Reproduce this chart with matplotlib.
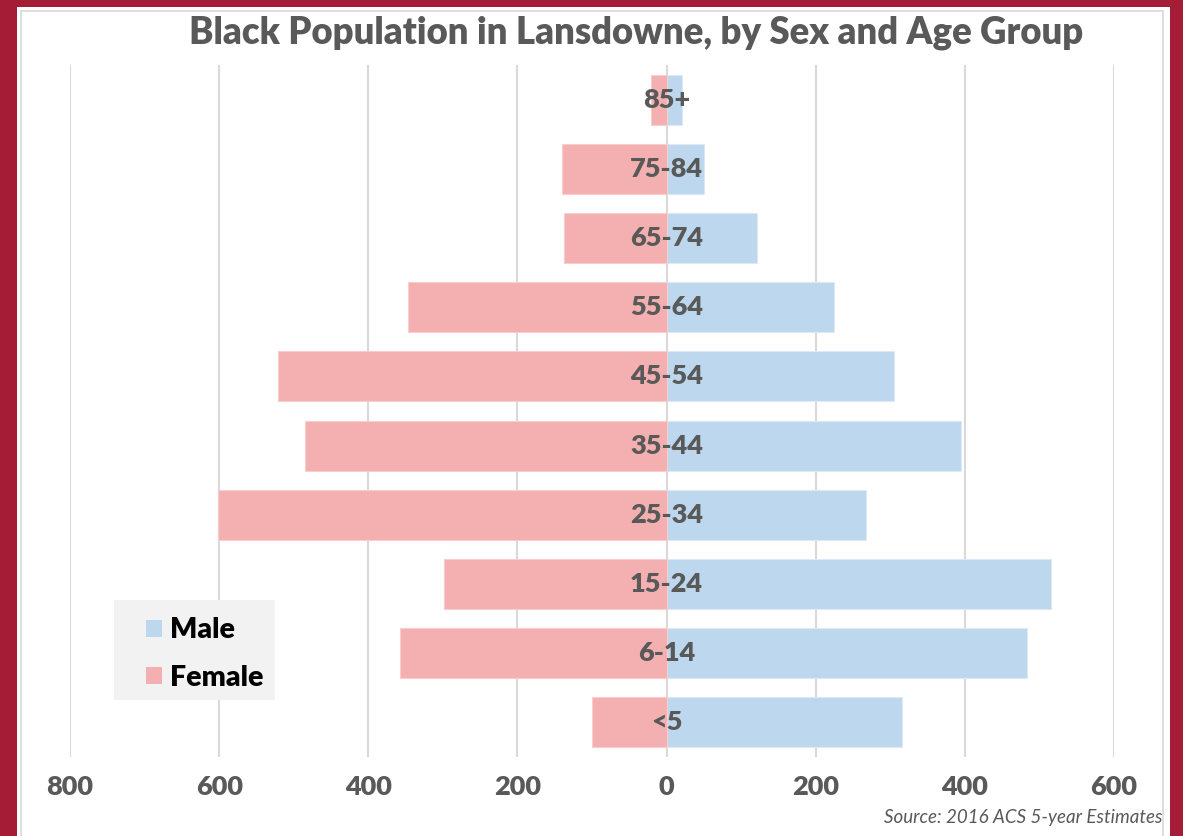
import matplotlib
matplotlib.use("Agg")
import matplotlib.pyplot as plt
from matplotlib.patches import Rectangle, Patch
from matplotlib.lines import Line2D

age_groups = ["<5", "6-14", "15-24", "25-34", "35-44", "45-54", "55-64", "65-74", "75-84", "85+"]
male = [316, 483, 515, 267, 395, 305, 225, 121, 50, 21]
female = [100, 358, 298, 601, 485, 521, 347, 137, 140, 21]
xticks = [-800, -600, -400, -200, 0, 200, 400, 600]
xticklabels = ["800", "600", "400", "200", "0", "200", "400", "600"]

TEXT = "#595959"
MALE_C = "#BDD7EE"
FEMALE_C = "#F4B0B1"
MAROON = "#A51C36"
FONT = "Lato"

W, H = 1183, 836
fig = plt.figure(figsize=(W / 100, H / 100), dpi=100)
fig.patch.set_facecolor("white")

ax = fig.add_axes([70 / W, (H - 757) / H, (1114 - 70) / W, (757 - 65) / H])
ax.set_xlim(-800, 600)
ax.set_ylim(-0.5, 9.5)
ypos = list(range(len(age_groups)))
ax.barh(ypos, male, height=0.72, color=MALE_C, edgecolor="#DDEAF6", linewidth=0.8, zorder=2, label="Male")
ax.barh(ypos, [-v for v in female], height=0.72, color=FEMALE_C, edgecolor="#F8CDCE", linewidth=0.8, zorder=2, label="Female")
for y, lab in zip(ypos, age_groups):
    ax.text(0, y, lab, ha="center", va="center", fontsize=19.5, fontweight="heavy",
            color=TEXT, family=FONT, zorder=4)

ax.set_xticks(xticks)
ax.set_xticklabels(xticklabels, fontsize=19.5, fontweight="heavy", color=TEXT, family=FONT)
ax.set_yticks([])
ax.tick_params(axis="x", length=0, pad=13)
ax.grid(axis="x", color="#D9D9D9", linewidth=1.5, zorder=0)
ax.set_axisbelow(True)
for s in ax.spines.values():
    s.set_visible(False)

fig.text(636 / W, 1 - 33 / H, "Black Population in Lansdowne, by Sex and Age Group",
         ha="center", va="center", fontsize=26.3, fontweight="heavy", color=TEXT, family=FONT)

# legend
fig.patches.append(Rectangle((114 / W, 1 - 700 / H), (275 - 114) / W, 100 / H,
                             transform=fig.transFigure, facecolor="#F2F2F2", edgecolor="none", zorder=5))
handles = [Patch(facecolor=MALE_C, edgecolor="none"), Patch(facecolor=FEMALE_C, edgecolor="none")]
leg = fig.legend(handles, ["Male", "Female"], loc="upper left",
                 bbox_to_anchor=(132 / W, 1 - 603 / H), frameon=False,
                 prop={"family": FONT, "weight": "heavy", "size": 20.5},
                 handlelength=0.55, handleheight=0.55, handletextpad=0.3, labelspacing=0.75,
                 borderpad=0.0)
leg.set_zorder(6)

fig.text(884 / W, 1 - 818 / H, "Source: 2016 ACS 5-year Estimates", ha="left", va="center",
         fontsize=13.5, style="italic", color=TEXT, family=FONT)

# frame lines
fig.add_artist(Line2D([21 / W, 21 / W], [0, 1 - 11 / H], transform=fig.transFigure, color="#D9D9D9", lw=1.2))
fig.add_artist(Line2D([1163 / W, 1163 / W], [0, 1 - 11 / H], transform=fig.transFigure, color="#D9D9D9", lw=1.2))
fig.add_artist(Line2D([21 / W, 1163 / W], [1 - 11 / H, 1 - 11 / H], transform=fig.transFigure, color="#D9D9D9", lw=1.2))
# maroon borders
for rect in [(0, 0, 17, H), (0, 0, W, 7), (1170, 0, W - 1170, H)]:
    x0, y0, w, h = rect
    fig.patches.append(Rectangle((x0 / W, 1 - (y0 + h) / H), w / W, h / H, transform=fig.transFigure,
                                 facecolor=MAROON, edgecolor="none", zorder=10))

fig.savefig("out.png", dpi=100)
